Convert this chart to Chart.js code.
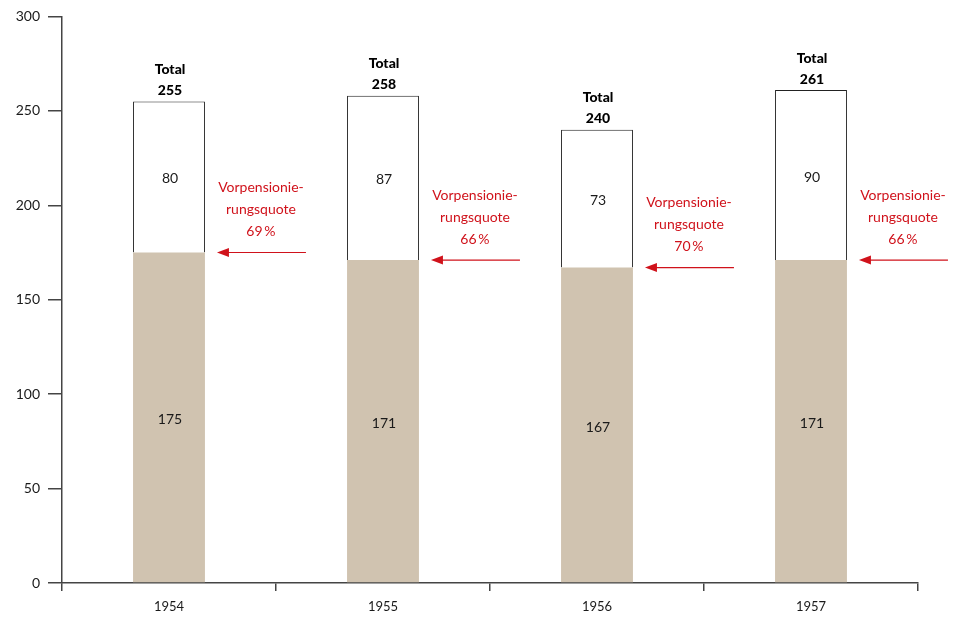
<!DOCTYPE html>
<html>
<head>
<meta charset="utf-8">
<script src="https://cdn.jsdelivr.net/npm/chart.js@4/dist/chart.umd.min.js"></script>
<style>
  html, body { margin: 0; padding: 0; background: #fff; overflow: hidden; }
  #c { display: block; }
</style>
</head>
<body>
<canvas id="c" width="961" height="617"></canvas>
<script>
const years = ['1954', '1955', '1956', '1957'];
const earlyRetired = [175, 171, 167, 171];
const others = [80, 87, 73, 90];
const totals = [255, 258, 240, 261];
const quotaLabels = ['69\u2009%', '66\u2009%', '70\u2009%', '66\u2009%'];
const yTicks = [0, 50, 100, 150, 200, 250, 300];

const FONT = 'Lato, "Open Sans", sans-serif';
const RED = '#d0121b';
const INK = '#1a1a1a';

// Labels inside segments, totals above bars, arrows with the quota note
const annotate = {
  id: 'annotate',
  afterDatasetsDraw(chart) {
    const ctx = chart.ctx;
    const y = chart.scales.y;
    const base = chart.getDatasetMeta(0).data;
    ctx.save();
    ctx.textAlign = 'center';
    ctx.textBaseline = 'middle';
    years.forEach((yr, i) => {
      const bar = base[i];
      const cx = bar.x + 1;
      const half = bar.width / 2;
      const yBase = y.getPixelForValue(0);
      const yMid = y.getPixelForValue(earlyRetired[i]);
      const yTop = y.getPixelForValue(totals[i]);

      ctx.fillStyle = INK;
      ctx.font = '14px ' + FONT;
      ctx.fillText(String(earlyRetired[i]), cx, (yBase + yMid) / 2 + 2);
      ctx.fillText(String(others[i]), cx, (yMid + yTop) / 2 + 2);

      ctx.fillStyle = '#000';
      ctx.font = '900 14px ' + FONT;
      ctx.fillText('Total', cx, yTop - 32);
      ctx.fillText(String(totals[i]), cx, yTop - 11);

      // arrow pointing at the top of the early-retirement segment
      const xr = bar.x + half;
      const x0 = xr + 12;
      const x1 = xr + 101;
      ctx.strokeStyle = RED;
      ctx.lineWidth = 1.2;
      ctx.beginPath();
      ctx.moveTo(x0 + 8, yMid);
      ctx.lineTo(x1, yMid);
      ctx.stroke();
      ctx.fillStyle = RED;
      ctx.beginPath();
      ctx.moveTo(x0, yMid);
      ctx.lineTo(x0 + 12, yMid - 4.5);
      ctx.lineTo(x0 + 12, yMid + 4.5);
      ctx.closePath();
      ctx.fill();

      ctx.font = '14px ' + FONT;
      const tx = xr + 56;
      ctx.fillText('Vorpensionie-', tx, yMid - 65);
      ctx.fillText('rungsquote', tx, yMid - 43);
      ctx.fillText(quotaLabels[i], tx, yMid - 21);
    });
    ctx.restore();
  }
};

new Chart(document.getElementById('c'), {
  type: 'bar',
  data: {
    labels: years,
    datasets: [
      {
        label: 'Vorpensionierungen',
        data: earlyRetired,
        backgroundColor: '#d0c3b0',
        borderWidth: 0,
        barPercentage: 1,
        categoryPercentage: 0.336
      },
      {
        label: 'Übrige',
        data: others,
        backgroundColor: '#ffffff',
        borderColor: '#222',
        borderWidth: { top: 1, left: 1, right: 1, bottom: 0 },
        borderSkipped: false,
        barPercentage: 1,
        categoryPercentage: 0.336
      }
    ]
  },
  options: {
    responsive: false,
    maintainAspectRatio: false,
    animation: false,
    devicePixelRatio: 1,
    layout: { padding: { top: 15, right: 43, left: 0, bottom: 0 } },
    plugins: { legend: { display: false }, tooltip: { enabled: false } },
    scales: {
      x: {
        stacked: true,
        offset: true,
        border: { display: true, color: '#444', width: 1.5 },
        grid: { offset: true, drawOnChartArea: false, drawTicks: true, tickLength: 8, color: '#444', lineWidth: 1.5 },
        ticks: { color: INK, font: { family: FONT, size: 13 }, padding: 8 },
        afterFit(s) { s.height = 34; }
      },
      y: {
        stacked: true,
        min: 0,
        max: 300,
        afterBuildTicks(s) { s.ticks = yTicks.map(v => ({ value: v })); },
        border: { display: true, color: '#444', width: 1.5 },
        grid: { drawOnChartArea: false, drawTicks: true, tickLength: 14, color: '#444', lineWidth: 1.5 },
        ticks: { color: INK, font: { family: FONT, size: 14 }, padding: 8 },
        afterFit(s) { s.width = 62; }
      }
    }
  },
  plugins: [annotate]
});
</script>
</body>
</html>
